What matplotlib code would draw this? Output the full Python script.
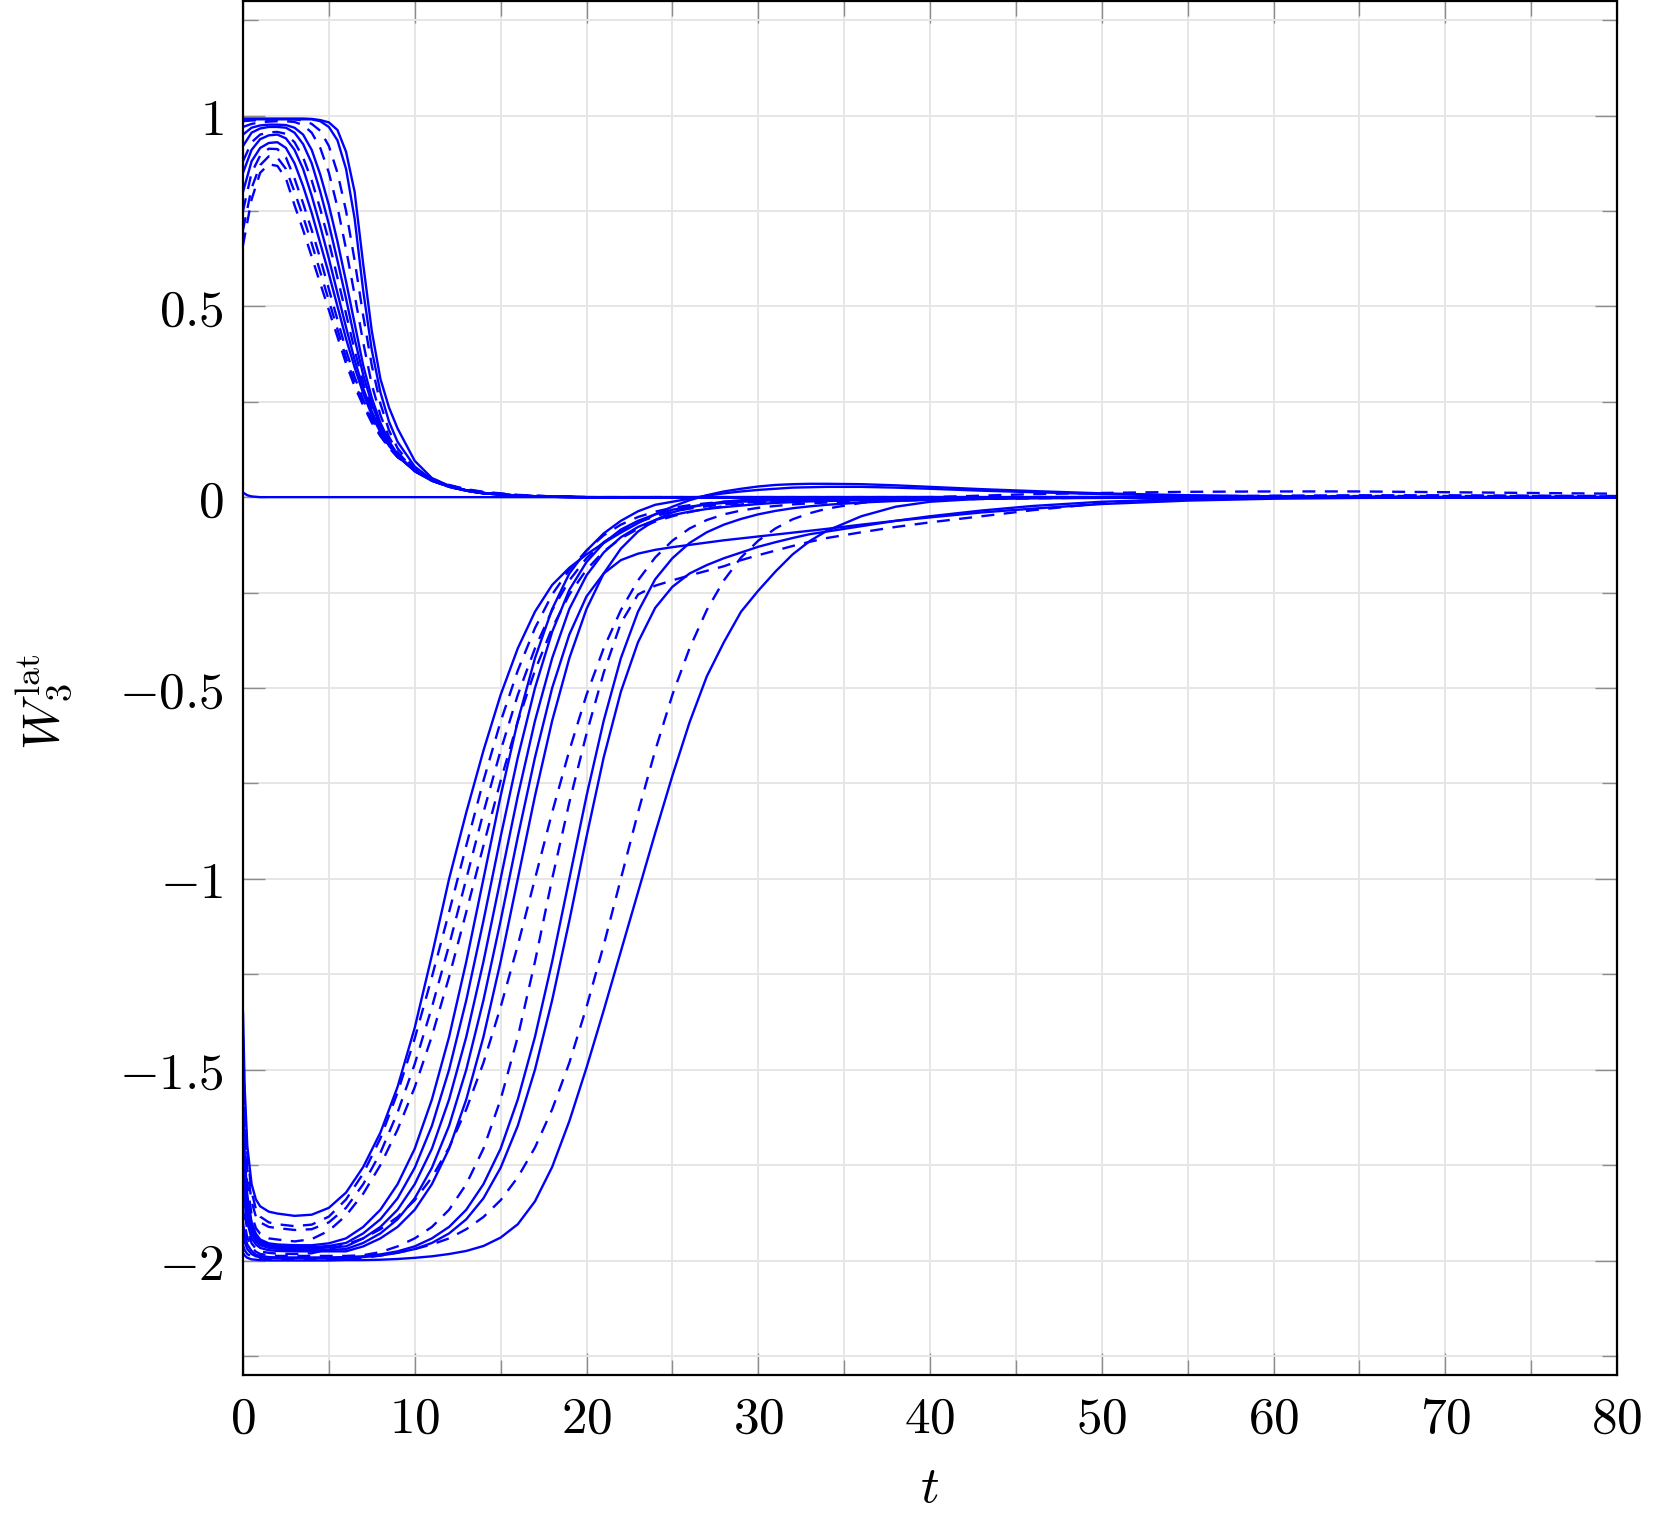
import matplotlib
matplotlib.use("Agg")
import matplotlib.pyplot as plt
from matplotlib.ticker import MultipleLocator

# time grids
T_UP = [0, 0.5, 1, 1.5, 2, 2.5, 3, 3.5, 4, 4.5, 5, 5.5, 6, 6.5, 7, 7.5, 8, 8.5, 9,
        10, 11, 12, 13, 14, 16, 18, 20, 80]

T_LO = [0, 0.1, 0.25, 0.5, 0.75, 1, 1.5,
        2, 3, 4, 5, 6, 7, 8, 9, 10, 11,
        12, 13, 14, 15, 16, 17, 18, 19, 20, 21,
        22, 23, 24, 25, 26, 27, 28, 29, 30, 31,
        32, 33, 34,
        36, 38, 40, 43, 46, 50, 55, 60, 65, 70, 75, 80]

# upper bundle (start near 1, decay to 0)
upper_y = [
    [0.66, 0.78, 0.85, 0.872, 0.868, 0.835, 0.765, 0.70, 0.63, 0.56, 0.49, 0.42, 0.35, 0.29, 0.24,
     0.195, 0.16, 0.13, 0.105, 0.072, 0.048, 0.032, 0.021, 0.014, 0.006, 0.002, 0.0, 0.0],
    [0.70, 0.81, 0.87, 0.893, 0.89, 0.86, 0.80, 0.735, 0.665, 0.59, 0.515, 0.44, 0.365, 0.30, 0.245,
     0.20, 0.162, 0.13, 0.105, 0.071, 0.047, 0.031, 0.02, 0.013, 0.005, 0.002, 0.0, 0.0],
    [0.75, 0.85, 0.895, 0.913, 0.912, 0.89, 0.835, 0.77, 0.70, 0.625, 0.545, 0.465, 0.385, 0.315, 0.255,
     0.205, 0.165, 0.132, 0.106, 0.07, 0.046, 0.03, 0.019, 0.012, 0.005, 0.002, 0.0, 0.0],
    [0.80, 0.88, 0.915, 0.928, 0.93, 0.915, 0.875, 0.815, 0.745, 0.665, 0.585, 0.50, 0.415, 0.34, 0.272,
     0.215, 0.17, 0.135, 0.107, 0.069, 0.045, 0.029, 0.018, 0.011, 0.004, 0.001, 0.0, 0.0],
    [0.85, 0.91, 0.938, 0.948, 0.95, 0.94, 0.91, 0.86, 0.79, 0.71, 0.625, 0.535, 0.445, 0.36, 0.285,
     0.225, 0.175, 0.137, 0.108, 0.069, 0.045, 0.029, 0.018, 0.011, 0.004, 0.001, 0.0, 0.0],
    [0.88, 0.93, 0.95, 0.956, 0.957, 0.952, 0.93, 0.89, 0.83, 0.755, 0.67, 0.575, 0.48, 0.385, 0.30,
     0.232, 0.178, 0.138, 0.108, 0.068, 0.044, 0.028, 0.018, 0.011, 0.004, 0.001, 0.0, 0.0],
    [0.92, 0.955, 0.966, 0.97, 0.97, 0.968, 0.955, 0.925, 0.875, 0.80, 0.715, 0.62, 0.52, 0.415, 0.32,
     0.245, 0.185, 0.142, 0.11, 0.068, 0.043, 0.028, 0.017, 0.01, 0.004, 0.001, 0.0, 0.0],
    [0.95, 0.968, 0.974, 0.976, 0.976, 0.975, 0.968, 0.95, 0.91, 0.845, 0.765, 0.67, 0.565, 0.455, 0.345,
     0.26, 0.195, 0.147, 0.112, 0.068, 0.043, 0.027, 0.017, 0.01, 0.004, 0.001, 0.0, 0.0],
    [0.97, 0.978, 0.982, 0.984, 0.985, 0.985, 0.983, 0.975, 0.955, 0.915, 0.85, 0.76, 0.65, 0.53, 0.405,
     0.295, 0.215, 0.158, 0.118, 0.07, 0.043, 0.027, 0.017, 0.01, 0.004, 0.001, 0.0, 0.0],
    [0.985, 0.987, 0.988, 0.989, 0.99, 0.99, 0.99, 0.987, 0.978, 0.96, 0.92, 0.85, 0.75, 0.62, 0.475,
     0.345, 0.245, 0.175, 0.128, 0.073, 0.044, 0.027, 0.017, 0.01, 0.004, 0.001, 0.0, 0.0],
    [0.99, 0.99, 0.99, 0.99, 0.99, 0.99, 0.99, 0.99, 0.99, 0.985, 0.97, 0.935, 0.86, 0.73, 0.54,
     0.385, 0.275, 0.198, 0.145, 0.08, 0.046, 0.028, 0.017, 0.01, 0.004, 0.001, 0.0, 0.0],
    [0.992, 0.992, 0.992, 0.992, 0.992, 0.992, 0.992, 0.992, 0.991, 0.988, 0.982, 0.962, 0.905, 0.80, 0.61,
     0.435, 0.31, 0.235, 0.18, 0.095, 0.05, 0.03, 0.018, 0.011, 0.004, 0.001, 0.0, 0.0],
]
upper_dashed = [True, True, True, False, False, True, False, False, True, True, False, False]

# lower bundle (start near -2, rise to 0)
lower_y = [
    [-1.35, -1.55, -1.70, -1.80, -1.84, -1.858, -1.872,
     -1.877, -1.883, -1.88, -1.862, -1.822, -1.755, -1.665, -1.545, -1.39, -1.20,
     -1.0, -0.826, -0.664, -0.518, -0.396, -0.30, -0.23, -0.185, -0.15, -0.12,
     -0.093, -0.068, -0.045, -0.025, -0.008, 0.005, 0.015, 0.022, 0.028, 0.032,
     0.034, 0.035, 0.035,
     0.034, 0.031, 0.027, 0.021, 0.016, 0.010, 0.005, 0.002, 0.001, 0.0, 0.0, 0.0],
    [-1.42, -1.59, -1.72, -1.82, -1.865, -1.885, -1.90,
     -1.905, -1.91, -1.906, -1.885, -1.84, -1.772, -1.68, -1.56, -1.418, -1.257,
     -1.087, -0.913, -0.743, -0.588, -0.454, -0.343, -0.255, -0.19, -0.14, -0.10,
     -0.072, -0.052, -0.038, -0.028, -0.021, -0.016, -0.012, -0.009, -0.007, -0.005,
     -0.004, -0.003, -0.002,
     -0.001, 0.0, 0.0, 0.0, 0.0, 0.0, 0.0, 0.0, 0.0, 0.0, 0.0, 0.0],
    [-1.5, -1.645, -1.76, -1.845, -1.885, -1.90, -1.912,
     -1.915, -1.92, -1.918, -1.90, -1.862, -1.80, -1.718, -1.612, -1.485, -1.336,
     -1.174, -1.0, -0.826, -0.664, -0.518, -0.396, -0.296, -0.218, -0.16, -0.118,
     -0.088, -0.066, -0.05, -0.038, -0.03, -0.024, -0.019, -0.015, -0.012, -0.01,
     -0.008, -0.007, -0.006,
     -0.004, -0.003, -0.002, -0.001, 0.0, 0.0, 0.0, 0.0, 0.0, 0.0, 0.0, 0.0],
    [-1.55, -1.69, -1.80, -1.88, -1.915, -1.93, -1.942,
     -1.945, -1.95, -1.944, -1.922, -1.882, -1.825, -1.75, -1.657, -1.546, -1.412,
     -1.257, -1.087, -0.913, -0.743, -0.588, -0.454, -0.343, -0.255, -0.19, -0.142,
     -0.108, -0.083, -0.064, -0.05, -0.039, -0.03, -0.024, -0.019, -0.015, -0.012,
     -0.01, -0.008, -0.007,
     -0.005, -0.004, -0.003, -0.002, -0.001, 0.0, 0.002, 0.004, 0.005, 0.005, 0.004, 0.003],
    [-1.6, -1.725, -1.83, -1.90, -1.93, -1.945, -1.955,
     -1.958, -1.96, -1.96, -1.955, -1.942, -1.912, -1.867, -1.800, -1.707, -1.578,
     -1.414, -1.217, -1.0, -0.783, -0.586, -0.422, -0.293, -0.200, -0.14, -0.095,
     -0.062, -0.037, -0.02, -0.012, -0.004, 0.004, 0.01, 0.015, 0.019, 0.022,
     0.025, 0.026, 0.027,
     0.027, 0.025, 0.022, 0.017, 0.013, 0.008, 0.004, 0.002, 0.001, 0.0, 0.0, 0.0],
    [-1.62, -1.74, -1.84, -1.905, -1.935, -1.95, -1.959,
     -1.962, -1.965, -1.965, -1.962, -1.954, -1.929, -1.892, -1.837, -1.757, -1.647,
     -1.500, -1.318, -1.110, -0.890, -0.682, -0.500, -0.353, -0.243, -0.170, -0.12,
     -0.085, -0.062, -0.045, -0.033, -0.025, -0.019, -0.015, -0.012, -0.01, -0.008,
     -0.007, -0.006, -0.005,
     -0.004, -0.003, -0.002, -0.001, 0.0, 0.0, 0.0, 0.0, 0.0, 0.0, 0.0, 0.0],
    [-1.68, -1.78, -1.86, -1.918, -1.943, -1.955, -1.963,
     -1.966, -1.968, -1.968, -1.966, -1.963, -1.942, -1.912, -1.867, -1.800, -1.707,
     -1.578, -1.414, -1.217, -1.0, -0.783, -0.586, -0.422, -0.293, -0.205, -0.145,
     -0.105, -0.078, -0.06, -0.047, -0.038, -0.031, -0.026, -0.022, -0.018, -0.015,
     -0.013, -0.011, -0.01,
     -0.008, -0.006, -0.005, -0.004, -0.003, -0.002, -0.001, 0.0, 0.0, 0.0, 0.0, 0.0],
    [-1.72, -1.81, -1.88, -1.93, -1.95, -1.96, -1.967,
     -1.97, -1.972, -1.972, -1.972, -1.97, -1.954, -1.929, -1.892, -1.837, -1.757,
     -1.647, -1.500, -1.318, -1.110, -0.890, -0.682, -0.500, -0.36, -0.26, -0.20,
     -0.165, -0.148, -0.138, -0.131, -0.125, -0.119, -0.113, -0.108, -0.103, -0.098,
     -0.093, -0.088, -0.083,
     -0.072, -0.062, -0.053, -0.04, -0.03, -0.018, -0.009, -0.004, -0.002, -0.001, 0.0, 0.0],
    [-1.78, -1.85, -1.90, -1.942, -1.958, -1.967, -1.973,
     -1.975, -1.976, -1.976, -1.976, -1.976, -1.963, -1.942, -1.912, -1.867, -1.800,
     -1.707, -1.578, -1.414, -1.217, -1.0, -0.783, -0.586, -0.422, -0.293, -0.2,
     -0.135, -0.09, -0.06, -0.04, -0.027, -0.018, -0.012, -0.008, -0.005, -0.003,
     -0.002, -0.001, 0.0,
     0.0, 0.0, 0.0, 0.0, 0.0, 0.0, 0.0, 0.0, 0.0, 0.0, 0.0, 0.0],
    [-1.82, -1.88, -1.92, -1.955, -1.969, -1.976, -1.98,
     -1.982, -1.983, -1.981, -1.971, -1.958, -1.942, -1.918, -1.886, -1.842, -1.782,
     -1.704, -1.604, -1.482, -1.336, -1.174, -1.0, -0.826, -0.664, -0.518, -0.396,
     -0.296, -0.218, -0.158, -0.114, -0.082, -0.06, -0.045, -0.035, -0.028, -0.023,
     -0.019, -0.016, -0.014,
     -0.011, -0.009, -0.007, -0.005, -0.003, -0.001, 0.0, 0.002, 0.003, 0.003, 0.003, 0.002],
    [-1.86, -1.905, -1.94, -1.965, -1.977, -1.983, -1.986,
     -1.988, -1.988, -1.988, -1.988, -1.988, -1.986, -1.978, -1.963, -1.942, -1.912,
     -1.867, -1.800, -1.707, -1.578, -1.414, -1.217, -1.0, -0.80, -0.62, -0.46,
     -0.33, -0.255, -0.232, -0.218, -0.205, -0.193, -0.181, -0.165, -0.152, -0.14,
     -0.128, -0.117, -0.107,
     -0.092, -0.078, -0.066, -0.05, -0.034, -0.016, -0.002, 0.0, 0.0, 0.0, 0.0, 0.0],
    [-1.9, -1.932, -1.958, -1.975, -1.985, -1.988, -1.991,
     -1.992, -1.992, -1.992, -1.992, -1.991, -1.989, -1.984, -1.976, -1.963, -1.942,
     -1.912, -1.867, -1.800, -1.707, -1.578, -1.414, -1.217, -1.0, -0.783, -0.586,
     -0.422, -0.30, -0.215, -0.16, -0.12, -0.092, -0.072, -0.057, -0.045, -0.036,
     -0.029, -0.024, -0.02,
     -0.014, -0.01, -0.007, -0.004, -0.002, -0.001, 0.0, 0.0, 0.0, 0.0, 0.0, 0.0],
    [-1.93, -1.952, -1.97, -1.983, -1.989, -1.991, -1.993,
     -1.994, -1.994, -1.994, -1.994, -1.993, -1.991, -1.987, -1.98, -1.970, -1.954,
     -1.929, -1.892, -1.837, -1.757, -1.647, -1.500, -1.318, -1.110, -0.890, -0.682,
     -0.51, -0.38, -0.29, -0.235, -0.2, -0.178, -0.16, -0.145, -0.13, -0.118,
     -0.107, -0.097, -0.09,
     -0.076, -0.062, -0.05, -0.035, -0.023, -0.012, -0.005, -0.002, -0.001, 0.0, 0.0, 0.0],
    [-1.96, -1.973, -1.983, -1.99, -1.994, -1.996, -1.997,
     -1.997, -1.997, -1.997, -1.997, -1.996, -1.993, -1.987, -1.979, -1.970, -1.958,
     -1.942, -1.918, -1.886, -1.842, -1.782, -1.704, -1.604, -1.482, -1.336, -1.174,
     -1.0, -0.826, -0.664, -0.518, -0.396, -0.296, -0.218, -0.158, -0.114, -0.082,
     -0.058, -0.042, -0.03,
     -0.015, -0.006, 0.0, 0.004, 0.008, 0.011, 0.014, 0.015, 0.015, 0.013, 0.011, 0.009],
    [-1.98, -1.987, -1.993, -1.997, -1.998, -1.999, -2.0,
     -2.0, -2.0, -2.0, -2.0, -1.999, -1.999, -1.998, -1.996, -1.993, -1.989,
     -1.983, -1.975, -1.962, -1.94, -1.905, -1.845, -1.755, -1.635, -1.495, -1.345,
     -1.19, -1.035, -0.88, -0.73, -0.59, -0.47, -0.38, -0.30, -0.245, -0.195,
     -0.15, -0.115, -0.088,
     -0.05, -0.025, -0.012, -0.004, -0.001, 0.0, 0.0, 0.0, 0.0, 0.0, 0.0, 0.0],
]
lower_dashed = [False, True, True, True, False, False, False, False, False, True, True,
                False, False, True, False]

# the component that stays at zero
zero_t = [0, 0.25, 0.5, 1, 2, 80]
zero_y = [0.012, 0.005, 0.002, 0.0, 0.0, 0.0]

x_ticks = [0, 10, 20, 30, 40, 50, 60, 70, 80]
x_labels = ["$0$", "$10$", "$20$", "$30$", "$40$", "$50$", "$60$", "$70$", "$80$"]
y_ticks = [-2, -1.5, -1, -0.5, 0, 0.5, 1]
y_labels = ["$-2$", "$-1.5$", "$-1$", "$-0.5$", "$0$", "$0.5$", "$1$"]

plt.rcParams['mathtext.fontset'] = 'cm'
plt.rcParams['font.family'] = ['DejaVu Serif']

blue = (0, 0, 1)
lw = 1.7
dash = [5.5, 4]

fig = plt.figure(figsize=(16.63, 15.17), dpi=100)
ax = fig.add_axes([243 / 1663, 1 - 1375 / 1517, 1374 / 1663, 1374 / 1517])

ax.plot(zero_t, zero_y, color=blue, lw=lw)
for ys, dashed in zip(upper_y, upper_dashed):
    line, = ax.plot(T_UP, ys, color=blue, lw=lw)
    if dashed:
        line.set_dashes(dash)
for ys, dashed in zip(lower_y, lower_dashed):
    line, = ax.plot(T_LO, ys, color=blue, lw=lw)
    if dashed:
        line.set_dashes(dash)

ax.set_xlim(0, 80)
ax.set_ylim(-2.3, 1.3)
ax.set_xticks(x_ticks)
ax.set_xticklabels(x_labels)
ax.set_yticks(y_ticks)
ax.set_yticklabels(y_labels)
ax.xaxis.set_minor_locator(MultipleLocator(5))
ax.yaxis.set_minor_locator(MultipleLocator(0.25))

ax.set_axisbelow(True)
ax.grid(True, which='both', color='#e6e6e6', lw=1.4)
for s in ax.spines.values():
    s.set_linewidth(1.6)
    s.set_color('black')

ax.tick_params(which='both', direction='in', top=True, right=True, color='0.55', width=1.0,
               labelsize=37, pad=14)
ax.tick_params(which='major', length=15.8)
ax.tick_params(which='minor', length=10.8)

ax.set_xlabel('$t$', fontsize=37, labelpad=14)
ax.set_ylabel(r'$W_3^{\mathrm{lat}}$', fontsize=37)
ax.yaxis.set_label_coords(-0.123, 0.49)

fig.savefig('out.png', dpi=100)
